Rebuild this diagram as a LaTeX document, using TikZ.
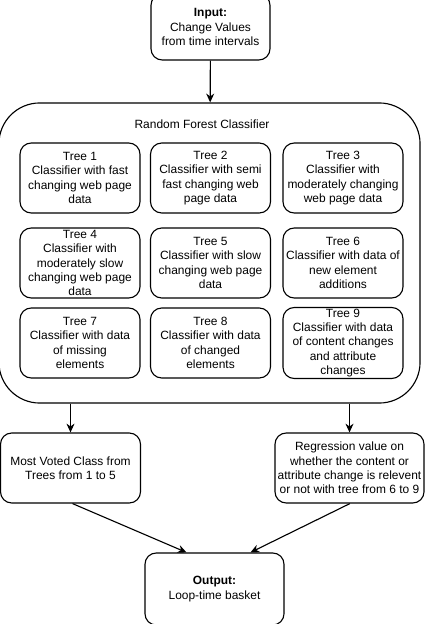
\documentclass[tikz,border=0pt]{standalone}
\usepackage{fontspec}
\setmainfont{Liberation Sans}
\usetikzlibrary{positioning}
\usetikzlibrary{arrows.meta}

\begin{document}
\begin{tikzpicture}[x=0.025cm, y=-0.025cm, line width=0.8pt,
    box/.style={draw, rectangle, rounded corners=8pt, align=center, inner sep=1pt, font=\fontsize{8.5}{10.2}\selectfont},
    tree/.style={box, minimum width=3cm, minimum height=1.75cm},
    arr/.style={-{Stealth[length=2.2mm, width=2mm]}}]
            \useasboundingbox (0,0) rectangle (425,624);
            % Input and the forest around the trees
            \node[box, minimum width=2.975cm, minimum height=1.65cm] (input) at (210.5,27) {\textbf{Input:}\\Change Values\\from time intervals};
            \node[draw, rectangle, rounded corners=29pt, minimum width=10.525cm, minimum height=7.5cm] (forest) at (209.5,253) {};
            \node[font=\fontsize{8.5}{10.2}\selectfont] (title) at (202,124) {Random Forest Classifier};
            % Trees 1 to 9
            \node[tree] (tree1) at (80,178) {Tree 1\\Classifier with fast\\changing web page\\data};
            \node[tree] (tree2) at (210.5,178) {Tree 2\\Classifier with semi\\fast changing web\\page data};
            \node[tree] (tree3) at (343,178) {Tree 3\\Classifier with\\moderately changing\\web page data};
            \node[tree] (tree4) at (80,263) {Tree 4\\Classifier with\\moderately slow\\changing web page\\data};
            \node[tree] (tree5) at (210.5,263) {Tree 5\\Classifier with slow\\changing web page\\data};
            \node[tree] (tree6) at (343,263) {Tree 6\\Classifier with data of\\new element\\additions};
            \node[tree] (tree7) at (80,343) {Tree 7\\Classifier with data\\of missing\\elements};
            \node[tree] (tree8) at (210.5,343) {Tree 8\\Classifier with data\\of changed\\elements};
            \node[tree] (tree9) at (343,343) {Tree 9\\Classifier with data\\of content changes\\and attribute\\changes};
            % Results and output
            \node[box, minimum width=3.5cm, minimum height=1.75cm] (voted) at (70.5,468) {Most Voted Class from\\Trees from 1 to 5};
            \node[box, minimum width=3.725cm, minimum height=1.75cm] (regress) at (349.5,468) {Regression value on\\whether the content or\\attribute change is relevent\\or not with tree from 6 to 9};
            \node[box, minimum width=3.475cm, minimum height=1.8cm] (output) at (214.5,589) {\textbf{Output:}\\Loop-time basket};
            \draw[arr] (input) -- (forest);
            \draw[arr] (forest.south -| voted.north) -- (voted.north);
            \draw[arr] (forest.south -| regress.north) -- (regress.north);
            \draw[arr] ([xshift=0.05cm]voted.south) -- ([xshift=-0.7cm]output.north);
            \draw[arr] ([xshift=0.01cm]regress.south) -- ([xshift=0.9cm]output.north);
        \end{tikzpicture}
\end{document}
